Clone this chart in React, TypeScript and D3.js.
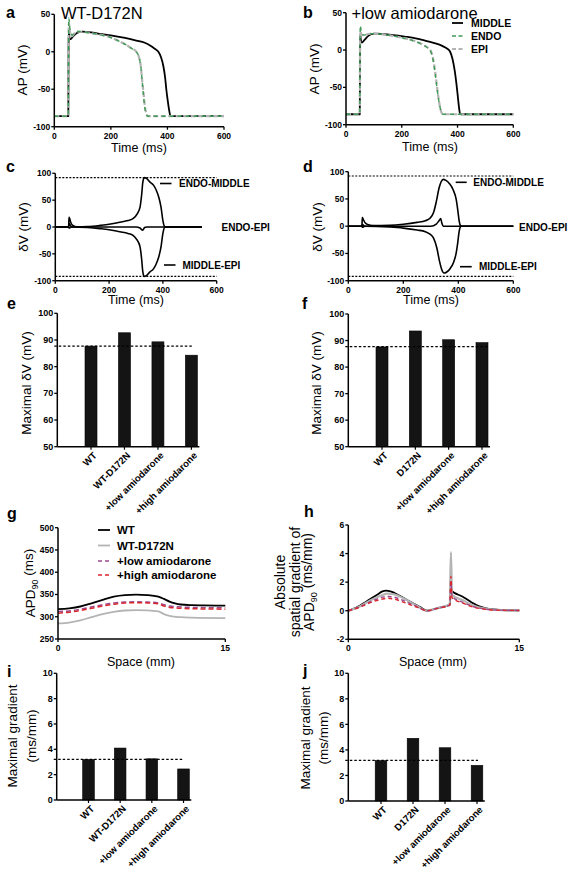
import React from "react";
import * as d3 from "d3";

type Pt = [number, number];
const FONT = "'Liberation Sans', Arial, Helvetica, sans-serif";

// ---------- Panel a: WT-D172N action potentials ----------
const apA_middle: Pt[] = [[0,-86],[49.5,-86],[50.5,10],[51.5,28],[52.5,24],[54,17],[58,17],[65,20],[80,25],[100,27],[130,26],[160,24],[200,22],[250,18.5],[290,15],[320,12],[340,8],[355,4],[368,0],[378,-8],[386,-20],[392,-35],[396,-50],[401,-65],[406,-78],[410,-85],[414,-86],[600,-86]];
const apA_endo: Pt[] = [[0,-86],[49.5,-86],[50.5,20],[51.5,45],[54,35],[58,25],[63,22],[70,25],[85,27],[110,26],[150,23.5],[200,19],[230,14],[255,9],[275,4],[290,0],[300,-8],[306,-20],[311,-40],[315,-57],[319,-72],[324,-82],[330,-86],[600,-86]];
const apA_epi: Pt[] = [[0,-86],[49.5,-86],[50.5,18],[51.5,38],[54,30],[58,22],[63,21],[70,24],[85,27],[110,26],[150,23.5],[200,19],[230,14],[255,9],[275,4],[290,0],[300,-8],[306,-20],[311,-40],[316,-57],[320,-72],[325,-82],[331,-86],[600,-86]];

// ---------- Panel b: +low amiodarone ----------
const apB_middle: Pt[] = [[0,-86],[49.5,-86],[50.5,5],[51.5,20],[53,14],[57,10],[65,13],[80,19],[100,22],[130,21.5],[170,20],[210,18],[250,15.7],[290,12],[320,9],[345,5.5],[362,2],[373,-2],[382,-12],[390,-28],[396,-45],[401,-62],[405,-76],[409,-85],[413,-86],[600,-86]];
const apB_endo: Pt[] = [[0,-86],[49.5,-86],[50.5,15],[51.5,33],[54,26],[58,21],[65,20],[80,21.5],[100,22],[150,20],[200,16.5],[250,11.2],[275,7],[295,2],[305,-3],[313,-15],[320,-32],[326,-50],[332,-66],[338,-78],[343,-84],[348,-86],[600,-86]];
const apB_epi: Pt[] = [[0,-86],[49.5,-86],[50.5,10],[51.5,25],[54,22],[58,20],[65,20],[80,21.5],[100,22],[150,20],[200,16.5],[250,11.5],[275,7.5],[295,2.5],[305,-2],[313,-13],[320,-30],[326,-48],[332,-65],[338,-78],[343,-84],[348,-86],[600,-86]];

// ---------- Panel c / d: voltage differences ----------
const dvC_endoMiddle: Pt[] = [[0,0],[49.5,0],[51,18],[53,16],[58,8],[65,3],[80,0.5],[120,1],[166,3],[200,5],[240,9],[270,12],[290,16],[305,25],[315,37],[321,60],[325,82],[330,92],[340,90],[351,84],[365,78],[375,69],[385,55],[393,37],[400,12],[406,1],[410,0],[545,0]];
const dvC_middleEpi: Pt[] = [[0,0],[49.5,0],[51,-2],[60,0],[120,-1],[166,-3],[200,-5],[240,-9],[270,-12],[290,-16],[305,-25],[315,-37],[321,-60],[325,-82],[330,-92],[340,-90],[351,-84],[365,-78],[375,-69],[385,-55],[393,-37],[400,-12],[406,-1],[410,0],[545,0]];
const dvC_endoEpi: Pt[] = [[0,0],[49.5,0],[51,7],[56,3],[65,0],[300,0],[315,-2],[325,-6],[332,-1],[340,0],[545,0]];

const dvD_endoMiddle: Pt[] = [[0,0],[49.5,0],[51,16],[54,13],[60,7],[70,3],[90,1],[150,1.5],[200,3.5],[250,7],[280,10],[297,14.5],[310,25],[320,45],[330,70],[338,82],[345,86],[355,84],[368,78],[382,66],[392,50],[398,30],[403,10],[408,1],[412,0],[600,0]];
const dvD_middleEpi: Pt[] = [[0,0],[49.5,0],[51,-2],[60,0],[150,-1.5],[200,-3.5],[250,-7],[280,-10],[297,-14.5],[310,-22],[322,-40],[332,-65],[340,-80],[348,-86],[358,-84],[370,-78],[383,-66],[392,-50],[398,-30],[403,-10],[408,-1],[412,0],[600,0]];
const dvD_endoEpi: Pt[] = [[0,0],[49.5,0],[51,3],[60,0],[300,0],[320,4],[330,10],[336,14],[340,6],[345,0],[600,0]];

// ---------- Panel e / f: maximal dV ----------
const catsE = ["WT", "WT-D172N", "+low amiodarone", "+high amiodarone"];
const valsE = [87.7, 92.7, 89.3, 84.3];
const refE = 87.7;
const catsF = ["WT", "D172N", "+low amiodarone", "+high amiodarone"];
const valsF = [87.6, 93.6, 90.3, 89.2];
const refF = 87.7;
const ticksDV = [50, 60, 70, 80, 90, 100];

// ---------- Panel g: APD90 ----------
const apdWT: Pt[] = [[0,317],[1,319],[2,323],[3,330],[4,338],[5,345],[6,348.5],[7,349.5],[8,348.5],[9,345],[9.5,340],[10,334],[10.5,330],[11,327.5],[12,326],[13,325.5],[15,325]];
const apdD172N: Pt[] = [[0,285],[1,287],[2,292],[3,299],[4,306],[5,311],[6,314],[7,315],[8,314.5],[9,312],[9.5,306],[10,302],[11,299],[12,298],[15,297]];
const apdLow: Pt[] = [[0,312],[1,313],[2,317],[3,322],[4,327],[5,331],[6,333],[7,333.5],[8,333],[9,331],[9.5,327],[10,324],[11,322],[12,321],[15,320]];
const apdHigh: Pt[] = [[0,308],[1,310],[2,314],[3,319],[4,324],[5,328],[6,331],[7,331.5],[8,331],[9,329],[9.5,324],[10,321],[11,319],[12,318],[15,317]];
const ticksAPD = [250, 300, 350, 400, 450, 500];

// ---------- Panel h: spatial gradient ----------
const grWT: Pt[] = [[0,0],[0.5,0.15],[1,0.35],[1.5,0.6],[2,0.85],[2.5,1.1],[3,1.35],[3.3,1.4],[3.7,1.35],[4.5,1.05],[5.5,0.6],[6.3,0.25],[6.9,0],[7.9,0.2],[8.9,0.42],[9.0,1.4],[9.3,1.25],[10,1.0],[10.5,0.75],[11,0.5],[11.5,0.3],[12,0.18],[13,0.08],[14,0.03],[15,0.02]];
const grD172N: Pt[] = [[0,0],[1,0.3],[2,0.75],[3,1.1],[3.4,1.2],[4,1.15],[5,0.8],[6,0.35],[6.9,0],[7.9,0.2],[8.9,0.45],[9.0,4.1],[9.1,1.1],[10,0.75],[11,0.35],[12,0.15],[13,0.06],[15,0.02]];
const grLow: Pt[] = [[0,0],[1,0.28],[2,0.65],[3,0.95],[3.5,1.0],[4,0.95],[5,0.65],[6,0.3],[6.9,0],[7.9,0.2],[8.9,0.4],[9.0,2.0],[9.1,1.0],[10,0.6],[11,0.28],[12,0.12],[13,0.05],[15,0.02]];
const grHigh: Pt[] = [[0,0],[1,0.25],[2,0.58],[3,0.82],[3.5,0.87],[4,0.82],[5,0.55],[6,0.25],[6.9,0],[7.9,0.18],[8.9,0.38],[9.0,2.4],[9.1,0.9],[10,0.55],[11,0.25],[12,0.1],[13,0.04],[15,0.02]];
const ticksGr = [-2, 0, 2, 4, 6];

// ---------- Panel i / j: maximal gradient ----------
const catsI = ["WT", "WT-D172N", "+low amiodarone", "+high amiodarone"];
const valsI = [3.2, 4.1, 3.25, 2.45];
const refI = 3.2;
const catsJ = ["WT", "D172N", "+low amiodarone", "+high amiodarone"];
const valsJ = [3.16, 4.91, 4.17, 2.79];
const refJ = 3.18;
const ticksMG = [0, 2, 4, 6, 8, 10];

const ticksTime = [0, 200, 400, 600];
const ticksAP = [-100, -50, 0, 50];
const ticksDVc = [-100, -50, 0, 50, 100];
const ticksSpace = [0, 15];

const GREEN = "#3f9a55";
const LGRAY = "#b4b4b4";
const PURPLE = "#9a4a8c";
const RED = "#d8262e";

type Lin = d3.ScaleLinear<number, number>;

function YAxis({ s, ticks, x, fs = 8.5 }: { s: Lin; ticks: number[]; x: number; fs?: number }) {
  const r = s.range();
  return (
    <g>
      <line x1={x} x2={x} y1={Math.min(r[0], r[1])} y2={Math.max(r[0], r[1])} stroke="#000" strokeWidth={1.5} />
      {ticks.map((t) => (
        <g key={t}>
          <line x1={x - 3} x2={x} y1={s(t)} y2={s(t)} stroke="#000" strokeWidth={1.3} />
          <text x={x - 4} y={s(t)} dy="0.35em" textAnchor="end" fontSize={fs} fontWeight="bold">{t}</text>
        </g>
      ))}
    </g>
  );
}

function XAxis({ s, ticks, y, fs = 8.5 }: { s: Lin; ticks: number[]; y: number; fs?: number }) {
  const r = s.range();
  return (
    <g>
      <line x1={r[0]} x2={r[1]} y1={y} y2={y} stroke="#000" strokeWidth={1.5} />
      {ticks.map((t) => (
        <g key={t}>
          <line x1={s(t)} x2={s(t)} y1={y} y2={y + 3} stroke="#000" strokeWidth={1.3} />
          <text x={s(t)} y={y + 12} textAnchor="middle" fontSize={fs} fontWeight="bold">{t}</text>
        </g>
      ))}
    </g>
  );
}

function Curve({ data, x, y, stroke, w = 1.6, dash }: { data: Pt[]; x: Lin; y: Lin; stroke: string; w?: number; dash?: string }) {
  const gen = d3.line<Pt>().x((d) => x(d[0])).y((d) => y(d[1])).curve(d3.curveMonotoneX);
  return <path d={gen(data) || ""} fill="none" stroke={stroke} strokeWidth={w} strokeDasharray={dash} strokeLinejoin="round" />;
}

function RotLabel({ x, y, lines, fs = 13, gap = 16 }: { x: number; y: number; lines: React.ReactNode[]; fs?: number; gap?: number }) {
  return (
    <g transform={`translate(${x},${y}) rotate(-90)`}>
      {lines.map((l, i) => (
        <text key={i} x={0} y={i * gap} textAnchor="middle" fontSize={fs}>{l}</text>
      ))}
    </g>
  );
}

function Letter({ x, y, t }: { x: number; y: number; t: string }) {
  return <text x={x} y={y} fontSize={16} fontWeight="bold">{t}</text>;
}

function BarPanel({ cats, vals, refv, ticks, yRange, xRange, yAxisX, barW, domain, refEnd, fs = 9, cfs = 9.6 }: {
  cats: string[]; vals: number[]; refv: number; ticks: number[]; yRange: [number, number]; xRange: [number, number]; yAxisX: number; barW: number; domain: [number, number]; refEnd: number; fs?: number; cfs?: number;
}) {
  const y = d3.scaleLinear().domain(domain).range(yRange);
  const x = d3.scalePoint<string>().domain(cats).range(xRange);
  const base = yRange[0];
  const axisEnd = (x(cats[cats.length - 1]) as number) + barW / 2 + 2;
  return (
    <g>
      {cats.map((c, i) => (
        <rect key={c} x={(x(c) as number) - barW / 2} y={y(vals[i])} width={barW} height={base - y(vals[i])} fill="#141414" stroke="#000" strokeWidth={0.6} />
      ))}
      <line x1={yAxisX - 3} x2={refEnd} y1={y(refv)} y2={y(refv)} stroke="#000" strokeWidth={1.3} strokeDasharray="2.5,2" />
      <YAxis s={y} ticks={ticks} x={yAxisX} fs={fs} />
      <line x1={yAxisX} x2={axisEnd} y1={base} y2={base} stroke="#000" strokeWidth={1.5} />
      {cats.map((c) => (
        <g key={c}>
          <line x1={x(c) as number} x2={x(c) as number} y1={base} y2={base + 3} stroke="#000" strokeWidth={1.2} />
          <text transform={`translate(${(x(c) as number) + 4},${base + 7}) rotate(-45)`} textAnchor="end" dy="0.35em" fontSize={cfs} fontWeight="bold">{c}</text>
        </g>
      ))}
    </g>
  );
}

function Apd({ unit }: { unit: string }) {
  return (
    <tspan>APD<tspan fontSize="0.65em" dy="0.35em">90</tspan><tspan dy="-0.35em">{" " + unit}</tspan></tspan>
  );
}

export default function App() {
  const xA = d3.scaleLinear().domain([0, 600]).range([54.3, 224]);
  const yA = d3.scaleLinear().domain([-100, 50]).range([126.7, 14.3]);
  const xB = d3.scaleLinear().domain([0, 600]).range([346, 513.3]);
  const yB = d3.scaleLinear().domain([-100, 50]).range([124.7, 12.7]);
  const xC = d3.scaleLinear().domain([0, 600]).range([55.3, 216.7]);
  const yC = d3.scaleLinear().domain([-100, 100]).range([280.7, 173.3]);
  const xD = d3.scaleLinear().domain([0, 600]).range([348.3, 513.3]);
  const yD = d3.scaleLinear().domain([-100, 100]).range([280.7, 171.7]);
  const xG = d3.scaleLinear().domain([0, 15]).range([58, 225.3]);
  const yG = d3.scaleLinear().domain([250, 500]).range([639, 527.7]);
  const xH = d3.scaleLinear().domain([0, 15]).range([348.3, 519.3]);
  const yH = d3.scaleLinear().domain([-2, 6]).range([639.3, 525]);

  const dashG = "5,2.5";

  return (
    <svg width={572} height={873} style={{ position: "absolute", left: 0, top: 0, background: "#fff" }} fontFamily={FONT}>
      <rect width={572} height={873} fill="#fff" />

      {/* ---------- a ---------- */}
      <Letter x={6} y={18} t="a" />
      <text x={61} y={19} fontSize={16.5}>WT-D172N</text>
      <Curve data={apA_middle} x={xA} y={yA} stroke="#000" w={1.8} />
      <Curve data={apA_epi} x={xA} y={yA} stroke={LGRAY} w={2.2} dash={dashG} />
      <Curve data={apA_endo} x={xA} y={yA} stroke={GREEN} w={1.4} dash="4,4" />
      <YAxis s={yA} ticks={ticksAP} x={54.3} />
      <XAxis s={xA} ticks={ticksTime} y={126.7} />
      <RotLabel x={27} y={70} lines={["AP (mV)"]} fs={13.5} />
      <text x={139} y={152} textAnchor="middle" fontSize={12.5}>Time (ms)</text>

      {/* ---------- b ---------- */}
      <Letter x={303} y={18} t="b" />
      <text x={351.5} y={19} fontSize={16.5}>+low amiodarone</text>
      <Curve data={apB_middle} x={xB} y={yB} stroke="#000" w={1.8} />
      <Curve data={apB_epi} x={xB} y={yB} stroke={LGRAY} w={2.2} dash={dashG} />
      <Curve data={apB_endo} x={xB} y={yB} stroke={GREEN} w={1.4} dash="4,4" />
      <YAxis s={yB} ticks={ticksAP} x={346} />
      <XAxis s={xB} ticks={ticksTime} y={124.7} />
      <RotLabel x={319} y={69} lines={["AP (mV)"]} fs={13.5} />
      <text x={430} y={151} textAnchor="middle" fontSize={12.5}>Time (ms)</text>
      <g fontSize={10.5} fontWeight="bold">
        <line x1={452} x2={463} y1={23} y2={23} stroke="#000" strokeWidth={1.8} />
        <text x={471} y={23} dy="0.35em">MIDDLE</text>
        <line x1={452} x2={463} y1={36} y2={36} stroke={GREEN} strokeWidth={1.6} strokeDasharray="4,2.5" />
        <text x={471} y={36} dy="0.35em">ENDO</text>
        <line x1={452} x2={463} y1={49} y2={49} stroke={LGRAY} strokeWidth={2} strokeDasharray="4,2.5" />
        <text x={471} y={49} dy="0.35em">EPI</text>
      </g>

      {/* ---------- c ---------- */}
      <Letter x={6} y={172} t="c" />
      <line x1={55.3} x2={216.7} y1={yC(92)} y2={yC(92)} stroke="#000" strokeWidth={1.1} strokeDasharray="2,1.5" />
      <line x1={55.3} x2={216.7} y1={yC(-92)} y2={yC(-92)} stroke="#000" strokeWidth={1.1} strokeDasharray="2,1.5" />
      <Curve data={dvC_endoEpi} x={xC} y={yC} stroke="#000" w={1.6} />
      <Curve data={dvC_endoMiddle} x={xC} y={yC} stroke="#000" w={1.6} />
      <Curve data={dvC_middleEpi} x={xC} y={yC} stroke="#000" w={1.6} />
      <YAxis s={yC} ticks={ticksDVc} x={55.3} />
      <XAxis s={xC} ticks={ticksTime} y={280.7} />
      <RotLabel x={28} y={227} lines={["δV (mV)"]} fs={13.5} />
      <text x={136} y={304} textAnchor="middle" fontSize={12.5}>Time (ms)</text>
      <g fontSize={10} fontWeight="bold">
        <line x1={160} x2={171.5} y1={183.5} y2={183.5} stroke="#000" strokeWidth={1.6} />
        <text x={179} y={183.5} dy="0.35em">ENDO-MIDDLE</text>
        <text x={221.5} y={227} dy="0.35em">ENDO-EPI</text>
        <line x1={164} x2={175.5} y1={265} y2={265} stroke="#000" strokeWidth={1.6} />
        <text x={182.5} y={265} dy="0.35em">MIDDLE-EPI</text>
      </g>

      {/* ---------- d ---------- */}
      <Letter x={303} y={172} t="d" />
      <line x1={348.3} x2={513.3} y1={yD(92)} y2={yD(92)} stroke="#000" strokeWidth={1.1} strokeDasharray="2,1.5" />
      <line x1={348.3} x2={513.3} y1={yD(-92)} y2={yD(-92)} stroke="#000" strokeWidth={1.1} strokeDasharray="2,1.5" />
      <Curve data={dvD_endoEpi} x={xD} y={yD} stroke="#000" w={1.6} />
      <Curve data={dvD_endoMiddle} x={xD} y={yD} stroke="#000" w={1.6} />
      <Curve data={dvD_middleEpi} x={xD} y={yD} stroke="#000" w={1.6} />
      <YAxis s={yD} ticks={ticksDVc} x={348.3} />
      <XAxis s={xD} ticks={ticksTime} y={280.7} />
      <RotLabel x={322} y={227} lines={["δV (mV)"]} fs={13.5} />
      <text x={431} y={304} textAnchor="middle" fontSize={12.5}>Time (ms)</text>
      <g fontSize={10} fontWeight="bold">
        <line x1={455.7} x2={466.7} y1={182.3} y2={182.3} stroke="#000" strokeWidth={1.6} />
        <text x={473.3} y={182.3} dy="0.35em">ENDO-MIDDLE</text>
        <text x={519} y={227} dy="0.35em">ENDO-EPI</text>
        <line x1={460} x2={471.7} y1={266.7} y2={266.7} stroke="#000" strokeWidth={1.6} />
        <text x={479} y={266.7} dy="0.35em">MIDDLE-EPI</text>
      </g>

      {/* ---------- e ---------- */}
      <Letter x={7} y={309} t="e" />
      <BarPanel cats={catsE} vals={valsE} refv={refE} ticks={ticksDV} domain={[50, 100]} yRange={[446.7, 313.3]} xRange={[91, 191.4]} yAxisX={57.3} barW={12} refEnd={192} />
      <RotLabel x={31} y={383} lines={["Maximal δV (mV)"]} fs={13.5} />

      {/* ---------- f ---------- */}
      <Letter x={302} y={309} t="f" />
      <BarPanel cats={catsF} vals={valsF} refv={refF} ticks={ticksDV} domain={[50, 100]} yRange={[446.7, 314]} xRange={[382, 482]} yAxisX={348.3} barW={12} refEnd={488} />
      <RotLabel x={321} y={383} lines={["Maximal δV (mV)"]} fs={13.5} />

      {/* ---------- g ---------- */}
      <Letter x={7} y={519} t="g" />
      <Curve data={apdWT} x={xG} y={yG} stroke="#000" w={1.8} />
      <Curve data={apdD172N} x={xG} y={yG} stroke={LGRAY} w={1.8} />
      <Curve data={apdLow} x={xG} y={yG} stroke={PURPLE} w={1.5} dash="5,3" />
      <Curve data={apdHigh} x={xG} y={yG} stroke={RED} w={1.5} dash="5,3" />
      <YAxis s={yG} ticks={ticksAPD} x={58} />
      <XAxis s={xG} ticks={ticksSpace} y={639} />
      <RotLabel x={35} y={583} lines={[<Apd unit="(ms)" />]} fs={13.5} />
      <text x={141} y={666} textAnchor="middle" fontSize={12.5}>Space (mm)</text>
      <g fontSize={11.5} fontWeight="bold">
        <line x1={98} x2={110} y1={530} y2={530} stroke="#000" strokeWidth={1.8} />
        <text x={117} y={530} dy="0.35em">WT</text>
        <line x1={98} x2={110} y1={545.5} y2={545.5} stroke={LGRAY} strokeWidth={1.8} />
        <text x={117} y={545.5} dy="0.35em">WT-D172N</text>
        <line x1={98} x2={110} y1={561} y2={561} stroke={PURPLE} strokeWidth={1.5} strokeDasharray="4,3" />
        <text x={117} y={561} dy="0.35em">+low amiodarone</text>
        <line x1={98} x2={110} y1={575} y2={575} stroke={RED} strokeWidth={1.5} strokeDasharray="4,3" />
        <text x={117} y={575} dy="0.35em">+high amiodarone</text>
      </g>

      {/* ---------- h ---------- */}
      <Letter x={304} y={517} t="h" />
      <Curve data={grWT} x={xH} y={yH} stroke="#000" w={1.8} />
      <Curve data={grD172N} x={xH} y={yH} stroke={LGRAY} w={2.2} />
      <Curve data={grLow} x={xH} y={yH} stroke={PURPLE} w={1.4} dash="4,3" />
      <Curve data={grHigh} x={xH} y={yH} stroke={RED} w={1.4} dash="4,3" />
      <YAxis s={yH} ticks={ticksGr} x={348.3} />
      <XAxis s={xH} ticks={ticksSpace} y={639.3} />
      <RotLabel x={285} y={582} lines={["Absolute", "spatial gradient of", <Apd unit="(ms/mm)" />]} fs={14} gap={14.5} />
      <text x={433} y={666} textAnchor="middle" fontSize={12.5}>Space (mm)</text>

      {/* ---------- i ---------- */}
      <Letter x={7} y={677} t="i" />
      <BarPanel cats={catsI} vals={valsI} refv={refI} ticks={ticksMG} domain={[0, 10]} yRange={[800, 673.3]} xRange={[88.5, 183.5]} yAxisX={56.7} barW={11.6} refEnd={184} />
      <RotLabel x={17} y={736} lines={["Maximal gradient", "(ms/mm)"]} fs={13.5} gap={19} />

      {/* ---------- j ---------- */}
      <Letter x={303} y={676} t="j" />
      <BarPanel cats={catsJ} vals={valsJ} refv={refJ} ticks={ticksMG} domain={[0, 10]} yRange={[801, 673.3]} xRange={[381, 477]} yAxisX={348.3} barW={11.6} refEnd={478} />
      <RotLabel x={310} y={738} lines={["Maximal gradient", "(ms/mm)"]} fs={13.5} gap={18} />
    </svg>
  );
}
